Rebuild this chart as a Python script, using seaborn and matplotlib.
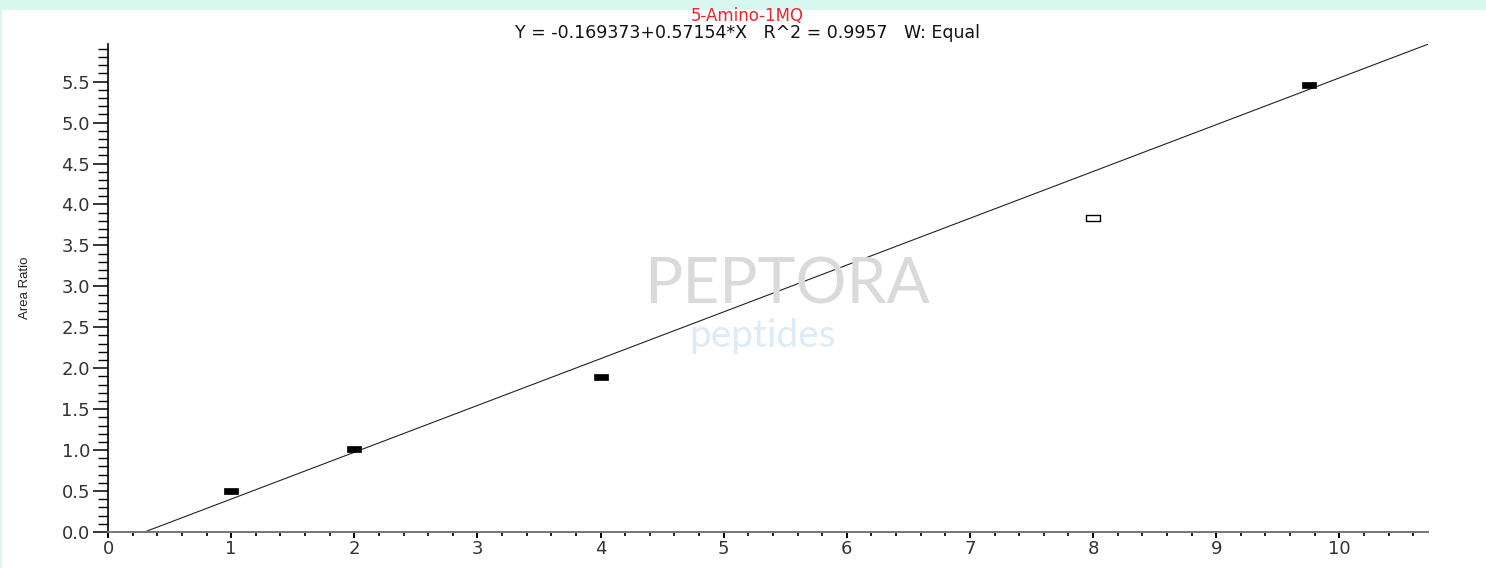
import numpy as np
import pandas as pd
import matplotlib
matplotlib.use("Agg")
import matplotlib.pyplot as plt
from matplotlib.patches import Rectangle
from matplotlib.ticker import MultipleLocator, FormatStrFormatter
import seaborn as sns

# ---- data ----
conc = [1.0, 2.0, 4.0, 8.0, 9.75]
area_ratio = [0.50, 1.015, 1.895, 3.84, 5.46]
included = [True, True, True, False, True]
intercept = -0.169373
slope = 0.57154
x_max = 10.72
y_max = 5.96
title_main = "5-Amino-1MQ"
title_eq = "Y = -0.169373+0.57154*X   R^2 = 0.9957   W: Equal"
y_label = "Area Ratio"

df = pd.DataFrame({"x": conc, "y": area_ratio, "used": included})
x0 = -intercept / slope
fit = pd.DataFrame({"x": [x0, x_max]})
fit["y"] = intercept + slope * fit["x"]

sns.set_theme(style="white")
plt.rcParams["font.family"] = ["DejaVu Sans"]

W, H = 1486, 568
fig = plt.figure(figsize=(W / 100, H / 100), dpi=100)
fig.patch.set_facecolor("white")
mint = "#d8f7ee"
fig.patches.append(Rectangle((0, 1 - 10 / H), 1, 10 / H, transform=fig.transFigure,
                             facecolor=mint, edgecolor="none", zorder=0))
fig.patches.append(Rectangle((0, 0), 2 / W, 1, transform=fig.transFigure,
                             facecolor=mint, edgecolor="none", zorder=0))

ax = fig.add_axes([108 / W, 36 / H, (1428 - 108) / W, (532 - 44) / H])
ax.set_facecolor("none")

# watermark
fig.text(787 / W, 1 - 303 / H, "PEPTORA", fontsize=46, color="#dadada", ha="center", va="baseline",
         family=["Lato", "DejaVu Sans"], zorder=0)
fig.text(762 / W, 1 - 347 / H, "peptides", fontsize=28, color="#dcebf6", ha="center", va="baseline",
         family=["Lato", "DejaVu Sans"], zorder=0)

sns.lineplot(data=fit, x="x", y="y", ax=ax, color="#222222", linewidth=0.8, zorder=2)

rect = [(-1, -0.45), (1, -0.45), (1, 0.45), (-1, 0.45), (-1, -0.45)]
used = df[df["used"]]
unused = df[~df["used"]]
sns.scatterplot(data=used, x="x", y="y", ax=ax, marker=rect, s=115, color="black",
                edgecolor="black", linewidth=0.5, zorder=3)
sns.scatterplot(data=unused, x="x", y="y", ax=ax, marker=rect, s=115, facecolor="white",
                edgecolor="black", linewidth=1.0, zorder=3)

ax.set_xlim(0, x_max)
ax.set_ylim(0, y_max)
ax.xaxis.set_major_locator(MultipleLocator(1))
ax.xaxis.set_minor_locator(MultipleLocator(0.2))
ax.yaxis.set_major_locator(MultipleLocator(0.5))
ax.yaxis.set_minor_locator(MultipleLocator(0.1))
ax.yaxis.set_major_formatter(FormatStrFormatter("%.1f"))

for s in ["top", "right"]:
    ax.spines[s].set_visible(False)
ax.spines["left"].set_color("black")
ax.spines["left"].set_linewidth(1.2)
ax.spines["bottom"].set_color("#777777")
ax.spines["bottom"].set_linewidth(1.4)

ax.tick_params(axis="y", which="major", direction="out", length=11, width=1.1, color="black",
               labelsize=13, labelcolor="#333333", pad=2, left=True)
ax.tick_params(axis="y", which="minor", direction="out", length=7.5, width=1.0, color="black", left=True)
ax.tick_params(axis="x", which="major", direction="out", length=4.5, width=1.4, color="black",
               labelsize=13, labelcolor="#333333", pad=1, bottom=True)
ax.tick_params(axis="x", which="minor", direction="out", length=3, width=1.2, color="black", bottom=True)

ax.set_xlabel("")
ax.set_ylabel(y_label, fontsize=9.5, color="#222222", labelpad=22, family=["Liberation Sans", "DejaVu Sans"])

fig.text(747 / W, 1 - 21 / H, title_main, color="#e8262b", fontsize=12, ha="center", va="baseline")
fig.text(747 / W, 1 - 38.5 / H, title_eq, color="#111111", fontsize=12.5, ha="center", va="baseline")

fig.savefig("out.png", dpi=100)
